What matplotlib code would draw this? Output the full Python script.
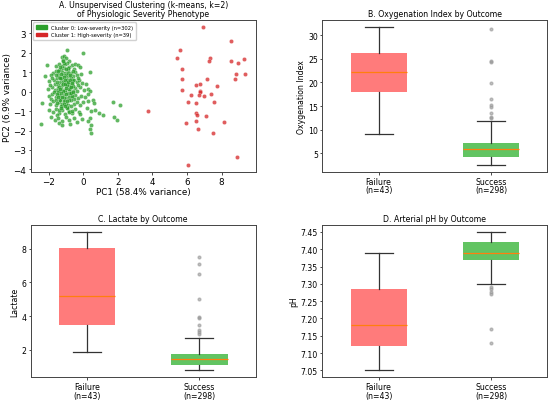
import numpy as np
import matplotlib
matplotlib.use("Agg")
import matplotlib.pyplot as plt
from matplotlib.patches import Patch

# --- panel A: PCA scores ---
low_pc1 = [-0.91, 0.00, -1.25, -1.12, -1.02, -1.18, -0.85,
           -2.09, -1.55, -1.40, -0.95, -0.62, -0.45, -0.30, -0.80, -1.10, -0.20, -1.30, -0.55,
           0.39, -2.21, -1.75, -1.60, -1.45, -1.25, -1.05, -0.90, -0.72, -0.50, -0.35, -0.15,
           -1.85, -1.38, -0.60, -1.15, -0.85,
           -1.95, -1.70, -1.52, -1.35, -1.20, -1.00, -0.88, -0.70, -0.52, -0.38, -0.22, -0.05,
           0.15, -1.62, -1.10, -0.62, -1.42, -0.80, -0.30, -1.80,
           -2.05, -1.80, -1.62, -1.48, -1.30, -1.15, -1.00, -0.85, -0.68, -0.50, -0.35, -0.18,
           0.05, 0.25, 0.38, -1.90, -1.40, -0.92, -0.60, -1.22, -0.28,
           -2.00, -1.78, -1.60, -1.45, -1.28, -1.12, -0.98, -0.80, -0.65, -0.48, -0.30, -0.12,
           0.10, 0.30, -1.88, -1.35, -0.90, -0.55, -1.70, -1.05,
           -2.36, -1.90, -1.72, -1.55, -1.38, -1.20, -1.05, -0.88, -0.72, -0.55, -0.38, -0.20,
           0.00, 0.25, 0.55, 0.65, 1.74, 2.13, -1.60, -0.95,
           -2.00, -1.75, -1.58, -1.40, -1.22, -1.05, -0.85, -0.65, -0.45, -0.25, -0.19, 0.20,
           0.45, 0.70, 0.90, -1.50,
           -1.85, -1.65, -1.45, -1.25, -1.00, -0.80, -0.55, -0.35, 1.16, 1.78, 1.98, 0.39,
           0.29, -2.44, -1.40, -0.05,
           0.43, 0.39, 0.45, -1.20, -0.75,
           -1.08, -0.98, -1.18, -0.78, -1.32, -0.92, -1.02, -1.22, -0.70, -1.48, -0.88, -1.12,
           -0.58, -1.28, -0.96, -1.38, -0.66, -1.06, -0.84, -1.16,
           -1.26, -1.14, -1.04, -0.94, -0.82, -0.74, -1.34, -1.44, -1.54, -0.64,
           -1.21, -1.11, -1.01, -0.91, -0.81, -1.31, -1.41, -0.71, -0.61, -1.51,
           -1.24, -1.09, -0.99, -0.89, -0.79, -1.36, -1.46, -0.69, -1.56, -0.59,
           -1.19, -1.07, -0.97, -0.87, -0.77, -1.29, -1.39, -0.67, -1.49, -0.57,
           -1.27, -1.13, -0.93, -0.83, -1.33, -0.73, -1.43, -1.03, -0.63, -1.17]
low_pc2 = [2.14, 2.01, 1.78, 1.85, 1.72, 1.64, 1.60,
           1.36, 1.30, 1.45, 1.50, 1.35, 1.42, 1.38, 1.28, 1.22, 1.25, 1.18, 1.18,
           1.03, 0.80, 0.95, 1.05, 0.90, 1.02, 0.98, 1.10, 0.95, 1.02, 0.88, 0.92,
           0.85, 1.10, 0.82, 0.85, 0.80,
           0.55, 0.62, 0.70, 0.50, 0.65, 0.72, 0.55, 0.68, 0.60, 0.48, 0.58, 0.45,
           0.40, 0.42, 0.45, 0.42, 0.78, 0.40, 0.72, 0.70,
           0.15, 0.25, 0.10, 0.32, 0.20, 0.05, 0.28, 0.12, 0.30, 0.18, 0.05, 0.22,
           0.10, 0.15, 0.05, 0.35, 0.02, 0.38, 0.02, 0.35, 0.32,
           -0.20, -0.12, -0.30, -0.08, -0.25, -0.15, -0.32, -0.10, -0.28, -0.15, -0.35, -0.20,
           -0.30, -0.12, -0.38, -0.38, -0.05, -0.38, -0.02, -0.02,
           -0.57, -0.62, -0.50, -0.70, -0.55, -0.75, -0.50, -0.68, -0.45, -0.62, -0.52, -0.70,
           -0.55, -0.48, -0.45, -0.60, -0.53, -0.67, -0.45, -0.80,
           -0.95, -1.05, -0.90, -1.10, -0.95, -1.15, -1.00, -1.12, -0.90, -1.05, -1.17, -0.85,
           -1.00, -0.95, -1.10, -1.20,
           -1.30, -1.45, -1.35, -1.50, -1.30, -1.45, -1.35, -1.55, -1.22, -1.29, -1.46, -1.34,
           -1.51, -1.65, -1.60, -1.40,
           -1.74, -1.94, -2.11, -1.70, -1.65,
           0.10, -0.12, 0.48, 0.22, -0.45, 0.62, 0.88, -0.62, -0.02, 0.05, 1.20, -0.35,
           0.30, 0.68, -0.80, -0.18, 0.55, 1.40, -0.28, 0.02,
           0.92, 0.76, 0.58, 0.34, 0.14, -0.06, 0.68, 0.18, 0.52, -0.22,
           -0.26, -0.46, -0.66, -0.86, -0.42, -0.72, -0.92, 0.26, 1.08, -0.56,
           1.32, 1.46, 1.16, 0.96, 0.86, 1.26, 1.06, -0.08, 0.84, 0.62,
           0.38, 0.42, 0.18, 0.48, 0.58, -0.06, 0.22, 0.46, -0.12, -0.04,
           -0.82, -0.62, -0.48, -1.04, 0.12, -0.74, -0.28, -0.72, -0.98, 1.56]

high_pc1 = [6.92, 8.57, 5.62, 5.43, 7.36, 7.27, 8.55, 8.95, 9.30, 5.70, 8.84, 9.38, 8.80,
            5.72, 7.13, 7.71, 6.55, 6.73, 6.78, 6.74, 5.74, 6.26, 6.67, 6.98, 7.40, 6.05,
            6.53, 7.56, 3.76, 6.55, 6.59, 7.09, 5.97, 6.51, 8.14, 6.65, 7.52, 8.90, 6.06]
high_pc2 = [3.34, 2.62, 2.17, 1.76, 1.72, 1.60, 1.58, 1.46, 1.70, 1.19, 0.93, 0.89, 0.67,
            0.64, 0.65, 0.31, 0.36, 0.40, 0.05, -0.02, 0.07, -0.19, -0.19, -0.24, -0.10, -0.52,
            -0.57, -0.53, -1.02, -1.10, -1.20, -1.24, -1.60, -1.51, -1.55, -1.90, -2.14, -3.34, -3.79]

# --- panels B-D: box summaries (low whisker, Q1, median, Q3, high whisker) ---
groups = ["Failure\n(n=43)", "Success\n(n=298)"]

oi_fail = [9.1, 18.0, 22.2, 26.3, 31.8]
oi_succ = [2.45, 4.15, 5.85, 7.1, 11.85]
oi_succ_out = [31.3, 24.6, 24.4, 19.9, 16.6, 15.3, 14.9, 13.6, 12.6, 12.4]

lac_fail = [1.88, 3.45, 5.2, 8.05, 9.0]
lac_succ = [0.78, 1.1, 1.43, 1.77, 2.7]
lac_succ_out = [7.49, 7.09, 6.5, 5.03, 3.96, 3.9, 3.49, 3.15, 3.07, 2.91]

ph_fail = [7.05, 7.12, 7.18, 7.285, 7.39]
ph_succ = [7.30, 7.37, 7.39, 7.42, 7.45]
ph_succ_out = [7.29, 7.284, 7.275, 7.27, 7.17, 7.13]

plt.rcParams["font.size"] = 6
plt.rcParams["axes.linewidth"] = 0.7
plt.rcParams["axes.edgecolor"] = "#444444"
plt.rcParams["xtick.major.size"] = 1.8
plt.rcParams["ytick.major.size"] = 1.8
plt.rcParams["xtick.major.width"] = 0.5
plt.rcParams["ytick.major.width"] = 0.5

fig, axes = plt.subplots(2, 2, figsize=(5.5, 4.02), dpi=100)
fig.subplots_adjust(left=0.056, right=0.995, top=0.948, bottom=0.059,
                    wspace=0.297, hspace=0.347)

green = "#2ca02c"
red = "#d62728"

ax = axes[0, 0]
ax.scatter(low_pc1, low_pc2, s=9, c=green, alpha=0.75, edgecolors="white", linewidths=0.2)
ax.scatter(high_pc1, high_pc2, s=9, c=red, alpha=0.75, edgecolors="white", linewidths=0.2)
ax.set_xlabel("PC1 (58.4% variance)", fontsize=6.3, labelpad=1)
ax.set_ylabel("PC2 (6.9% variance)", fontsize=6.3, labelpad=1)
ax.set_title("A. Unsupervised Clustering (k-means, k=2)\nof Physiologic Severity Phenotype",
             fontsize=5.6, pad=3, linespacing=1.0)
ax.tick_params(labelsize=6.3, pad=1.5)
ax.legend(handles=[Patch(color=green, label="Cluster 0: Low-severity (n=302)"),
                   Patch(color=red, label="Cluster 1: High-severity (n=39)")],
          loc="upper left", fontsize=3.7, handlelength=2.2, handleheight=0.7,
          borderpad=0.5, labelspacing=0.4, framealpha=0.9)


def box_panel(ax, fail, succ, succ_out, title, ylabel):
    stats = []
    for vals, out in [(fail, []), (succ, succ_out)]:
        stats.append(dict(whislo=vals[0], q1=vals[1], med=vals[2], q3=vals[3],
                          whishi=vals[4], fliers=out))
    b = ax.bxp(stats, positions=[1, 2], widths=0.5, patch_artist=True,
               boxprops=dict(linewidth=0),
               whiskerprops=dict(color="#333333", linewidth=0.9),
               capprops=dict(color="#333333", linewidth=0.9),
               medianprops=dict(color="#ff7f0e", linewidth=0.9),
               flierprops=dict(marker="o", markersize=2, markerfacecolor="#999999",
                               markeredgecolor="#999999", alpha=0.6))
    b["boxes"][0].set_facecolor("#ff7b7b")
    b["boxes"][1].set_facecolor("#62c462")
    ax.set_xticks([1, 2])
    ax.set_xticklabels(groups, fontsize=6.3, linespacing=0.95)
    ax.set_xlim(0.5, 2.5)
    ax.set_title(title, fontsize=5.6, pad=3)
    ax.set_ylabel(ylabel, fontsize=5.6, labelpad=1.5)
    ax.tick_params(labelsize=5.6, pad=1.5)


box_panel(axes[0, 1], oi_fail, oi_succ, oi_succ_out,
          "B. Oxygenation Index by Outcome", "Oxygenation Index")
box_panel(axes[1, 0], lac_fail, lac_succ, lac_succ_out,
          "C. Lactate by Outcome", "Lactate")
box_panel(axes[1, 1], ph_fail, ph_succ, ph_succ_out,
          "D. Arterial pH by Outcome", "pH")
axes[1, 1].set_yticks(np.arange(7.05, 7.451, 0.05))
axes[1, 1].yaxis.set_major_formatter(matplotlib.ticker.FormatStrFormatter("%.2f"))

fig.savefig("out.png", dpi=100)
